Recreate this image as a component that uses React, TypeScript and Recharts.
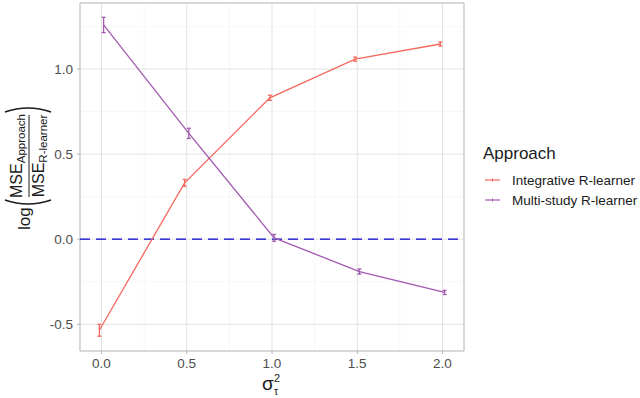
import {
  ComposedChart,
  Line,
  XAxis,
  YAxis,
  CartesianGrid,
  ReferenceLine,
  ReferenceArea,
  ErrorBar,
} from "recharts";

// sigma^2_tau levels
const sigmaLevels = [0, 0.5, 1.0, 1.5, 2.0];

// log(MSE_approach / MSE_R-learner)
const integrativeMean = [-0.535, 0.331, 0.831, 1.058, 1.147];
const integrativeErr = [0.035, 0.02, 0.015, 0.012, 0.012];
const multiStudyMean = [1.259, 0.622, 0.008, -0.19, -0.313];
const multiStudyErr = [0.045, 0.03, 0.02, 0.015, 0.012];

const xTicks = [0, 0.5, 1.0, 1.5, 2.0];
const xMinor = [0.25, 0.75, 1.25, 1.75];
const yTicks = [-0.5, 0, 0.5, 1.0];
const yMinor = [-0.25, 0.25, 0.75, 1.25];

const seriesNames = ["Integrative R-learner", "Multi-study R-learner"];
const colors = ["#F5695F", "#A25AB0"];

const DODGE = 0.0125;
const X_DOMAIN: [number, number] = [-0.126, 2.126];
const Y_DOMAIN: [number, number] = [-0.657, 1.388];

const integrativeData = sigmaLevels.map((s, i) => ({
  x: s - DODGE,
  y: integrativeMean[i],
  err: integrativeErr[i],
}));
const multiData = sigmaLevels.map((s, i) => ({
  x: s + DODGE,
  y: multiStudyMean[i],
  err: multiStudyErr[i],
}));

const FONT = "'Liberation Sans', Arial, Helvetica, sans-serif";
const tickStyle = { fontSize: 13.5, fill: "#4D4D4D", fontFamily: FONT };

function Overlay() {
  return (
    <svg
      width={640}
      height={398}
      style={{ position: "absolute", left: 0, top: 0, pointerEvents: "none" }}
      fontFamily={FONT}
    >
      {/* y axis title: log(MSE_Approach / MSE_R-learner) */}
      <g transform="translate(29,177) rotate(-90)" fill="#1A1A1A">
        <text x={-53} y={1} fontSize={17}>
          log
        </text>
        <path d="M -23 -24 Q -31 -1 -23 22" fill="none" stroke="#1A1A1A" strokeWidth={1.4} />
        <line x1={-20} x2={62} y1={0} y2={0} stroke="#1A1A1A" strokeWidth={1} />
        <text x={21} y={-7} fontSize={16} textAnchor="middle">
          MSE
          <tspan fontSize={11.5} dy={3}>
            Approach
          </tspan>
        </text>
        <text x={21} y={15} fontSize={16} textAnchor="middle">
          MSE
          <tspan fontSize={11.5} dy={3}>
            R-learner
          </tspan>
        </text>
        <path d="M 65 -24 Q 73 -1 65 22" fill="none" stroke="#1A1A1A" strokeWidth={1.4} />
      </g>

      {/* x axis title: sigma^2_tau */}
      <text x={262} y={390} fontSize={19} fill="#1A1A1A">
        σ
      </text>
      <text x={274} y={382} fontSize={11} fill="#1A1A1A">
        2
      </text>
      <text x={274} y={395} fontSize={10.5} fill="#1A1A1A">
        τ
      </text>

      {/* legend */}
      <text x={483} y={159} fontSize={17} fill="#1A1A1A">
        Approach
      </text>
      {seriesNames.map((name, i) => {
        const cy = 180 + i * 20;
        return (
          <g key={name}>
            <line x1={485} x2={500} y1={cy} y2={cy} stroke={colors[i]} strokeWidth={1.2} />
            <line x1={492.5} x2={492.5} y1={cy - 1.5} y2={cy + 1.5} stroke={colors[i]} strokeWidth={1} />
            <text x={512} y={cy + 5} fontSize={13.5} fill="#1A1A1A">
              {name}
            </text>
          </g>
        );
      })}
    </svg>
  );
}

export default function App() {
  return (
    <div style={{ position: "absolute", left: 0, top: 0, width: 640, height: 398, background: "#fff" }}>
      <ComposedChart width={640} height={398} margin={{ top: 3, right: 176, bottom: 0, left: 0 }}>
        <CartesianGrid
          stroke="#F2F2F2"
          strokeWidth={0.6}
          horizontalValues={yMinor}
          verticalValues={xMinor}
        />
        <CartesianGrid stroke="#E2E2E2" strokeWidth={1} horizontalValues={yTicks} verticalValues={xTicks} />
        <XAxis
          type="number"
          dataKey="x"
          domain={X_DOMAIN}
          ticks={xTicks}
          allowDataOverflow
          tickFormatter={(v: number) => v.toFixed(1)}
          tick={tickStyle}
          tickLine={{ stroke: "#B3B3B3" }}
          tickSize={3}
          tickMargin={4}
          axisLine={false}
          height={47}
        />
        <YAxis
          type="number"
          dataKey="y"
          domain={Y_DOMAIN}
          ticks={yTicks}
          allowDataOverflow
          tickFormatter={(v: number) => v.toFixed(1)}
          tick={tickStyle}
          tickLine={{ stroke: "#B3B3B3" }}
          tickSize={3}
          tickMargin={4}
          axisLine={false}
          width={80}
        />
        <ReferenceLine y={0} stroke="#0000CD" strokeWidth={1.2} strokeDasharray="10 6" />
        <Line
          data={integrativeData}
          dataKey="y"
          stroke={colors[0]}
          strokeWidth={1.3}
          dot={false}
          activeDot={false}
          isAnimationActive={false}
        >
          <ErrorBar dataKey="err" direction="y" width={2} stroke={colors[0]} strokeWidth={1.3} isAnimationActive={false} />
        </Line>
        <Line
          data={multiData}
          dataKey="y"
          stroke={colors[1]}
          strokeWidth={1.3}
          dot={false}
          activeDot={false}
          isAnimationActive={false}
        >
          <ErrorBar dataKey="err" direction="y" width={2} stroke={colors[1]} strokeWidth={1.3} isAnimationActive={false} />
        </Line>
        <ReferenceArea
          x1={X_DOMAIN[0]}
          x2={X_DOMAIN[1]}
          y1={Y_DOMAIN[0]}
          y2={Y_DOMAIN[1]}
          fill="none"
          stroke="#B3B3B3"
          strokeWidth={1}
          ifOverflow="visible"
        />
      </ComposedChart>
      <Overlay />
    </div>
  );
}
